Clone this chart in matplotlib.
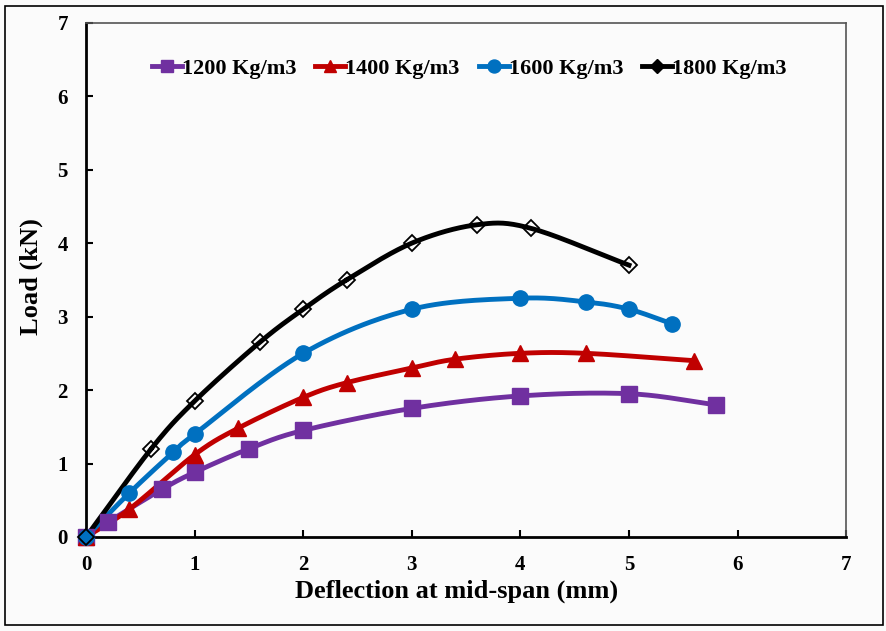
import numpy as np
import matplotlib.pyplot as plt
from matplotlib.patches import Rectangle

# load-deflection data
x_1200 = [0, 0.2, 0.7, 1.0, 1.5, 2.0, 3.0, 4.0, 5.0, 5.8]
y_1200 = [0, 0.2, 0.65, 0.88, 1.2, 1.45, 1.75, 1.92, 1.95, 1.8]

x_1400 = [0, 0.4, 1.0, 1.4, 2.0, 2.4, 3.0, 3.4, 4.0, 4.6, 5.6]
y_1400 = [0, 0.38, 1.12, 1.48, 1.9, 2.1, 2.3, 2.42, 2.5, 2.5, 2.4]

x_1600 = [0, 0.4, 0.8, 1.0, 2.0, 3.0, 4.0, 4.6, 5.0, 5.4]
y_1600 = [0, 0.6, 1.15, 1.4, 2.5, 3.1, 3.25, 3.2, 3.1, 2.9]

x_1800 = [0, 0.6, 1.0, 1.6, 2.0, 2.4, 3.0, 3.6, 4.1, 5.0]
y_1800 = [0, 1.2, 1.85, 2.65, 3.1, 3.5, 4.0, 4.25, 4.2, 3.7]

labels = ['1200 Kg/m3', '1400 Kg/m3', '1600 Kg/m3', '1800 Kg/m3']
colors = ['#7030a0', '#c00000', '#0070c0', '#000000']

plt.rcParams['font.family'] = ['Liberation Serif', 'DejaVu Serif']
plt.rcParams['font.weight'] = 'bold'


def smooth(x, y, n=30):
    # catmull-rom style smoothing like excel "smoothed line"
    x = np.asarray(x, float)
    y = np.asarray(y, float)
    px = np.concatenate([[2 * x[0] - x[1]], x, [2 * x[-1] - x[-2]]])
    py = np.concatenate([[2 * y[0] - y[1]], y, [2 * y[-1] - y[-2]]])
    xs, ys = [], []
    t = np.linspace(0, 1, n)
    for i in range(1, len(px) - 2):
        for p, out in ((px, xs), (py, ys)):
            p0, p1, p2, p3 = p[i - 1], p[i], p[i + 1], p[i + 2]
            out.extend(0.5 * ((2 * p1) + (-p0 + p2) * t
                              + (2 * p0 - 5 * p1 + 4 * p2 - p3) * t ** 2
                              + (-p0 + 3 * p1 - 3 * p2 + p3) * t ** 3))
    return xs, ys


fig = plt.figure(figsize=(8.87, 6.31), dpi=100)
fig.patch.set_facecolor('#fbfbfb')
fig.patches.append(Rectangle((0.006, 0.009), 0.989, 0.981, transform=fig.transFigure,
                             fill=False, edgecolor='black', linewidth=1.2))
ax = fig.add_axes([0.097, 0.149, 0.857, 0.815])
ax.set_facecolor('#fbfbfb')

series = [(x_1200, y_1200, 's', 11, None),
          (x_1400, y_1400, '^', 11, None),
          (x_1600, y_1600, 'o', 11, None),
          (x_1800, y_1800, 'D', 8, 'white')]

for (xs, ys, mk, ms, mfc), lab, col in zip(series, labels, colors):
    sx, sy = smooth(xs, ys)
    ax.plot(sx, sy, color=col, linewidth=3.5, zorder=2)
    if mfc:
        ax.plot(xs, ys, linestyle='none', marker=mk, markersize=ms, clip_on=False,
                markerfacecolor='none', markeredgecolor=col, markeredgewidth=1.3, zorder=3)
    else:
        ax.plot(xs, ys, linestyle='none', marker=mk, markersize=ms, color=col,
                clip_on=False, zorder=3)
    ax.plot([], [], color=col, linewidth=3.5, marker=mk, markersize=ms, label=lab)

ax.set_xlim(0, 7)
ax.set_ylim(0, 7)
ax.set_xticks(range(8))
ax.set_yticks(range(8))
ax.tick_params(direction='in', length=5, width=1.5, labelsize=15)
ax.tick_params(axis='x', pad=13)
ax.tick_params(axis='y', pad=13)
for s in ['left', 'bottom']:
    ax.spines[s].set_linewidth(2)
for s in ['top', 'right']:
    ax.spines[s].set_color('#555555')
    ax.spines[s].set_linewidth(1.2)

ax.set_xlabel('Deflection at mid-span (mm)', fontsize=19, fontweight='bold')
ax.set_ylabel('Load (kN)', fontsize=19, fontweight='bold')
ax.xaxis.set_label_coords(0.488, -0.082)
ax.yaxis.set_label_coords(-0.056, 0.506)

leg = ax.legend(loc='center', bbox_to_anchor=(0.504, 0.910), ncol=4, frameon=False,
                fontsize=16, handlelength=1.35, handletextpad=0.0, columnspacing=0.85,
                markerscale=0.85)

fig.savefig('out.png', dpi=100, facecolor=fig.get_facecolor())
